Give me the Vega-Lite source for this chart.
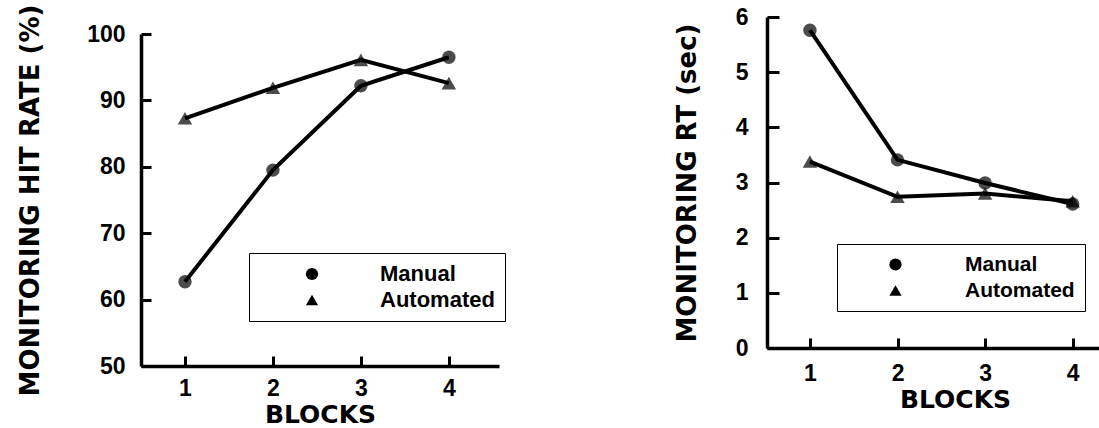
{
  "$schema": "https://vega.github.io/schema/vega-lite/v6.json",
  "background": "white",
  "padding": {"left": 17, "top": 4, "right": 0, "bottom": 0},
  "spacing": 168,
  "resolve": {"scale": {"shape": "independent", "size": "independent", "x": "independent", "y": "independent"}, "legend": {"shape": "independent", "size": "independent"}},
  "datasets": {
    "hit": [
      {"block": 1, "series": "Manual", "value": 62.7},
      {"block": 2, "series": "Manual", "value": 79.5},
      {"block": 3, "series": "Manual", "value": 92.2},
      {"block": 4, "series": "Manual", "value": 96.5},
      {"block": 1, "series": "Automated", "value": 87.3},
      {"block": 2, "series": "Automated", "value": 91.9},
      {"block": 3, "series": "Automated", "value": 96.1},
      {"block": 4, "series": "Automated", "value": 92.6}
    ],
    "rt": [
      {"block": 1, "series": "Manual", "value": 5.76},
      {"block": 2, "series": "Manual", "value": 3.41},
      {"block": 3, "series": "Manual", "value": 2.99},
      {"block": 4, "series": "Manual", "value": 2.61},
      {"block": 1, "series": "Automated", "value": 3.38},
      {"block": 2, "series": "Automated", "value": 2.74},
      {"block": 3, "series": "Automated", "value": 2.8},
      {"block": 4, "series": "Automated", "value": 2.66}
    ]
  },
  "hconcat": [
    {
      "width": 358,
      "height": 349,
      "data": {"name": "hit"},
      "resolve": {"axis": {"x": "independent", "y": "independent"}},
      "layer": [
        {
          "mark": {"type": "line", "color": "black", "strokeWidth": 4},
          "encoding": {
            "x": {
              "field": "block", "type": "quantitative",
              "scale": {"domain": [0.5, 4.57], "nice": false, "zero": false},
              "axis": {"orient": "bottom", "values": [1, 2, 3, 4], "format": "d", "title": "BLOCKS", "titlePadding": 2, "labelPadding": 11, "ticks": false}
            },
            "y": {
              "field": "value", "type": "quantitative",
              "scale": {"domain": [50, 100], "range": [349, 17], "nice": false, "zero": false},
              "axis": {"orient": "left", "values": [50, 60, 70, 80, 90, 100], "title": "MONITORING HIT RATE (%)", "titlePadding": 43, "labelPadding": 16, "ticks": false}
            },
            "detail": {"field": "series"}
          }
        },
        {
          "mark": {"type": "point", "filled": true, "color": "black"},
          "encoding": {
            "x": {
              "field": "block", "type": "quantitative",
              "axis": {"orient": "top", "offset": -349, "values": [1, 2, 3, 4], "labels": false, "domain": false, "title": null, "ticks": true, "tickSize": 10, "tickColor": "black", "tickWidth": 3, "tickOpacity": 1}
            },
            "y": {
              "field": "value", "type": "quantitative",
              "axis": {"orient": "right", "offset": -358, "values": [50, 60, 70, 80, 90, 100], "labels": false, "domain": false, "title": null, "ticks": true, "tickSize": 10, "tickColor": "black", "tickWidth": 3, "tickOpacity": 1}
            },
            "size": {
              "field": "series", "type": "nominal",
              "scale": {"domain": ["Automated", "Manual"], "range": [210, 180]},
              "legend": null
            },
            "shape": {
              "field": "series", "type": "nominal",
              "scale": {"domain": ["Manual", "Automated"], "range": ["circle", "triangle-up"]},
              "legend": {
                "orient": "none", "legendX": 108, "legendY": 236, "title": null,
                "strokeColor": "black", "padding": 10,
                "symbolSize": 150, "symbolOffset": 42, "labelOffset": 57,
                "labelFont": "Liberation Sans", "labelFontWeight": "bold", "labelFontSize": 22, "labelColor": "black",
                "symbolFillColor": "black", "symbolStrokeColor": "black", "symbolStrokeWidth": 0, "symbolOpacity": 1,
                "rowPadding": 4,
                "encode": {
                  "legend": {"strokeWidth": {"value": 3}}
                }
              }
            }
          }
        }
      ]
    },
    {
      "width": 339,
      "height": 331,
      "data": {"name": "rt"},
      "resolve": {"axis": {"x": "independent", "y": "independent"}},
      "layer": [
        {
          "mark": {"type": "line", "color": "black", "strokeWidth": 4},
          "encoding": {
            "x": {
              "field": "block", "type": "quantitative",
              "scale": {"domain": [0.51, 4.38], "nice": false, "zero": false},
              "axis": {"orient": "bottom", "values": [1, 2, 3, 4], "format": "d", "title": "BLOCKS", "titlePadding": 2, "labelPadding": 14, "titleX": 188, "ticks": false}
            },
            "y": {
              "field": "value", "type": "quantitative",
              "scale": {"domain": [0, 6], "nice": false, "zero": false},
              "axis": {"orient": "left", "values": [0, 1, 2, 3, 4, 5, 6], "title": "MONITORING RT (sec)", "titlePadding": 35, "labelPadding": 19, "ticks": false}
            },
            "detail": {"field": "series"}
          }
        },
        {
          "mark": {"type": "point", "filled": true, "color": "black"},
          "encoding": {
            "x": {
              "field": "block", "type": "quantitative",
              "axis": {"orient": "top", "offset": -331, "values": [1, 2, 3, 4], "labels": false, "domain": false, "title": null, "ticks": true, "tickSize": 10, "tickColor": "black", "tickWidth": 3, "tickOpacity": 1}
            },
            "y": {
              "field": "value", "type": "quantitative",
              "axis": {"orient": "right", "offset": -339, "values": [0, 1, 2, 3, 4, 5, 6], "labels": false, "domain": false, "title": null, "ticks": true, "tickSize": 12, "tickColor": "black", "tickWidth": 3, "tickOpacity": 1}
            },
            "size": {
              "field": "series", "type": "nominal",
              "scale": {"domain": ["Automated", "Manual"], "range": [210, 180]},
              "legend": null
            },
            "shape": {
              "field": "series", "type": "nominal",
              "scale": {"domain": ["Manual", "Automated"], "range": ["circle", "triangle-up"]},
              "legend": {
                "orient": "none", "legendX": 70, "legendY": 227, "title": null,
                "strokeColor": "black", "padding": 10,
                "symbolSize": 150, "symbolOffset": 38, "labelOffset": 59,
                "labelFont": "Liberation Sans", "labelFontWeight": "bold", "labelFontSize": 21, "labelColor": "black",
                "symbolFillColor": "black", "symbolStrokeColor": "black", "symbolStrokeWidth": 0, "symbolOpacity": 1,
                "rowPadding": 4,
                "encode": {
                  "legend": {"strokeWidth": {"value": 3}}
                }
              }
            }
          }
        }
      ]
    }
  ],
  "config": {
    "view": {"stroke": null},
    "axis": {
      "grid": false,
      "domainColor": "black", "domainWidth": 3.5,
      "labelFont": "Liberation Sans", "labelFontWeight": "bold", "labelFontSize": 23, "labelColor": "black",
      "titleFont": "DejaVu Sans", "titleFontWeight": "bold", "titleFontSize": 26, "titleColor": "black"
    },
    "axisX": {"titleFontSize": 25}
  }
}
